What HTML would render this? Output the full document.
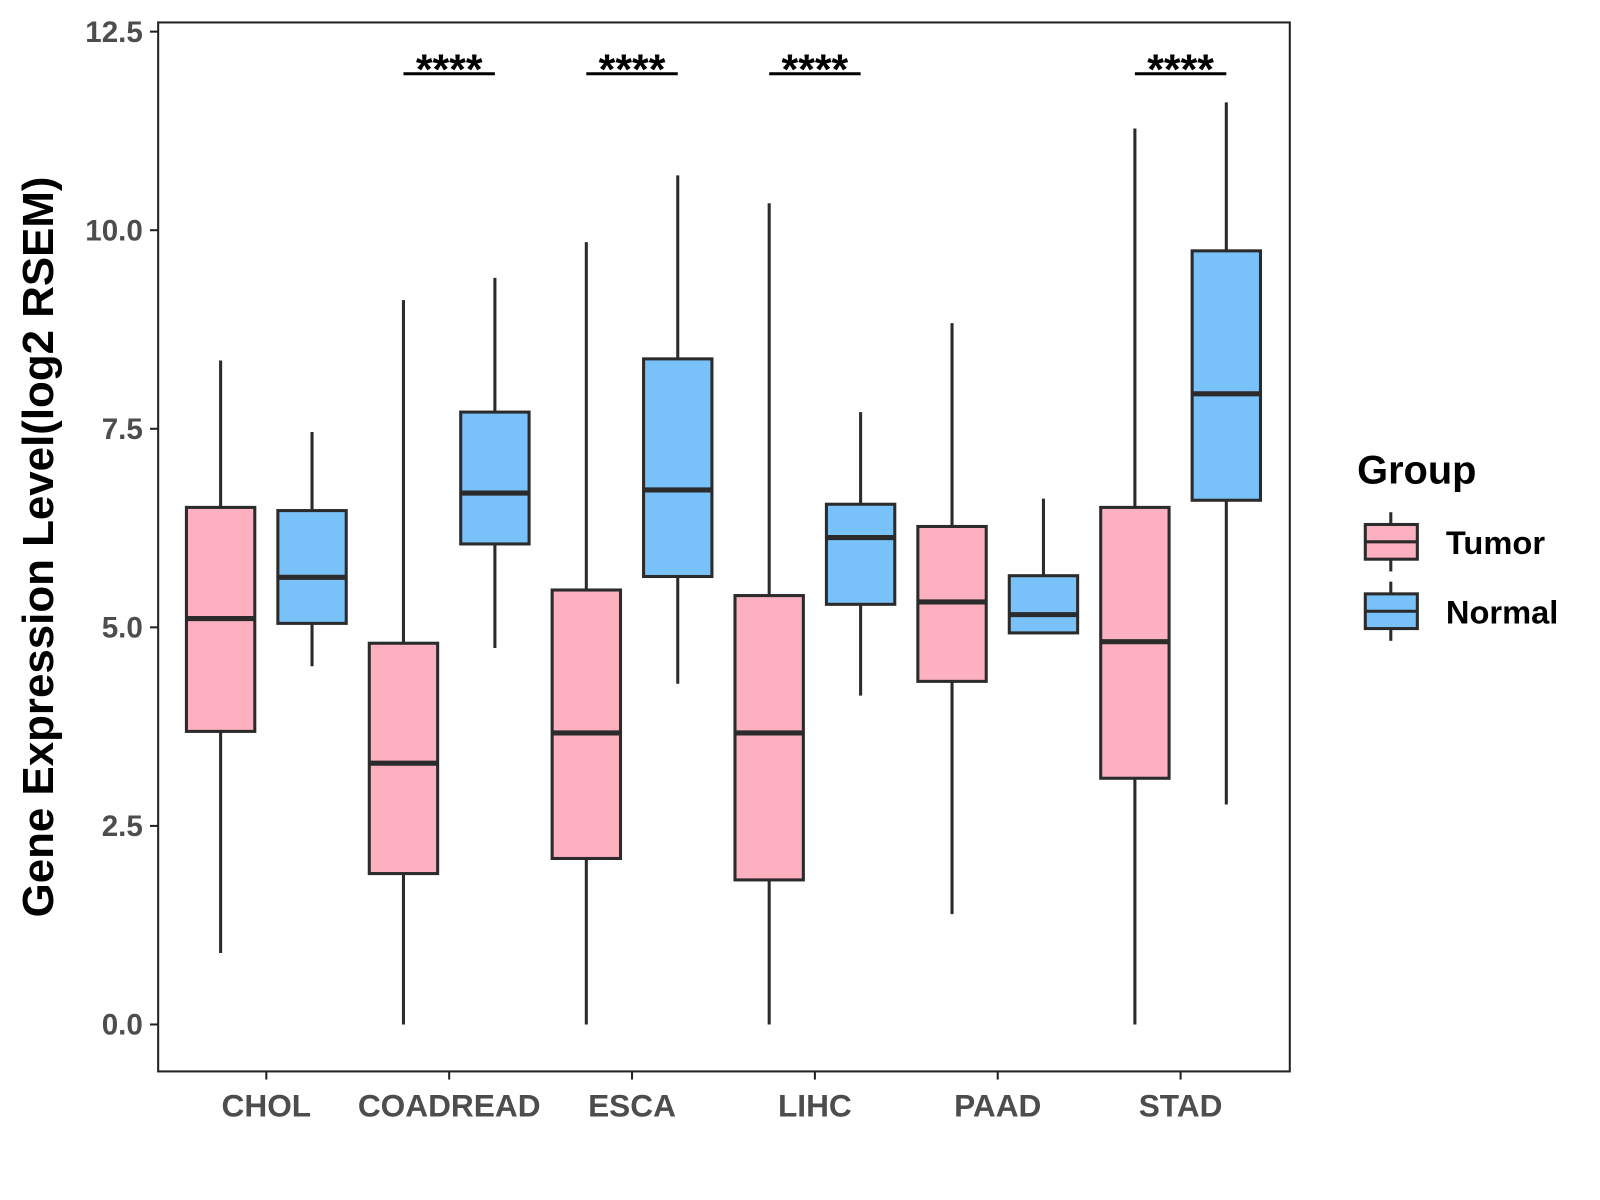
<!DOCTYPE html>
<html><head><meta charset="utf-8"><style>
html,body{margin:0;padding:0;background:#fff;}
svg{display:block;font-family:"Liberation Sans",sans-serif;}
</style></head><body>
<svg id="chart" width="1600" height="1200" viewBox="0 0 1600 1200">
<g transform="scale(1.0204)">
<rect x="155" y="22" width="1109" height="1028" fill="#fff" stroke="#222" stroke-width="2"/>
<g id="marks"></g>
<text transform="translate(52,536) rotate(-90)" text-anchor="middle" font-size="43" font-weight="bold" fill="#000">Gene Expression Level(log2 RSEM)</text>
<g>
<text x="1330" y="474" font-size="39" font-weight="bold">Group</text>
<g>
<line x1="1363" y1="502" x2="1363" y2="560" stroke="#2b2b2b" stroke-width="3"/>
<rect x="1338" y="514" width="51" height="34" fill="#FDB0C0" stroke="#2b2b2b" stroke-width="3"/>
<line x1="1338" y1="531" x2="1389" y2="531" stroke="#2b2b2b" stroke-width="3"/>
<text x="1417" y="543" font-size="32" font-weight="bold">Tumor</text>
</g>
<g>
<line x1="1363" y1="570" x2="1363" y2="628" stroke="#2b2b2b" stroke-width="3"/>
<rect x="1338" y="582" width="51" height="34" fill="#79C1F9" stroke="#2b2b2b" stroke-width="3"/>
<line x1="1338" y1="599" x2="1389" y2="599" stroke="#2b2b2b" stroke-width="3"/>
<text x="1417" y="611" font-size="32" font-weight="bold">Normal</text>
</g>
</g>
</g>
</svg>
<script>
const categories = ["CHOL","COADREAD","ESCA","LIHC","PAAD","STAD"];
const tumorMin = [0.90,0,0,0,1.39,0];
const tumorQ1 = [3.69,1.90,2.09,1.82,4.32,3.10];
const tumorMed = [5.11,3.29,3.67,3.67,5.32,4.82];
const tumorQ3 = [6.51,4.80,5.47,5.40,6.27,6.51];
const tumorMax = [8.36,9.12,9.85,10.34,8.83,11.28];
const normalMin = [4.51,4.74,4.29,4.14,4.93,2.77];
const normalQ1 = [5.05,6.05,5.64,5.29,4.93,6.60];
const normalMed = [5.63,6.69,6.73,6.13,5.16,7.94];
const normalQ3 = [6.47,7.71,8.38,6.55,5.65,9.74];
const normalMax = [7.46,9.40,10.69,7.71,6.62,11.61];
const significance = ["","****","****","****","","****"];
const sigLevel = 11.97;
const yTicks = [0,2.5,5,7.5,10,12.5];
const yTickLabels = ["0.0","2.5","5.0","7.5","10.0","12.5"];

const NS="http://www.w3.org/2000/svg";
const g=document.getElementById('marks');
const y=v=>1004-v*77.84;
const x=i=>261+i*179.2;
function el(t,a,p){const e=document.createElementNS(NS,t);for(const k in a)e.setAttribute(k,a[k]);(p||g).appendChild(e);return e;}
yTicks.forEach((t,i)=>{
  const l=el('line',{x1:147,x2:155,y1:y(t),y2:y(t),stroke:'#222','stroke-width':2});
  
  
  const tx=el('text',{x:140,y:y(t)+10,'text-anchor':'end','font-size':29,'font-weight':'bold',fill:'#4d4d4d'});
  tx.textContent=yTickLabels[i];
  
  
});
function box(cx,mn,q1,md,q3,mx,fill,name){
  const grp=el('g',{});
  
  
  el('line',{x1:cx,x2:cx,y1:y(mx),y2:y(mn),stroke:'#2b2b2b','stroke-width':3},grp);
  el('rect',{x:cx-33.5,y:y(q3),width:67,height:y(q1)-y(q3),fill:fill,stroke:'#2b2b2b','stroke-width':3},grp);
  el('line',{x1:cx-33.5,x2:cx+33.5,y1:y(md),y2:y(md),stroke:'#2b2b2b','stroke-width':5},grp);
}
categories.forEach((c,i)=>{
  const cx=x(i);
  box(cx-44.8,tumorMin[i],tumorQ1[i],tumorMed[i],tumorQ3[i],tumorMax[i],'#FDB0C0','box-tumor-'+c.toLowerCase());
  box(cx+44.8,normalMin[i],normalQ1[i],normalMed[i],normalQ3[i],normalMax[i],'#79C1F9','box-normal-'+c.toLowerCase());
  const tk=el('line',{x1:cx,x2:cx,y1:1050,y2:1058,stroke:'#222','stroke-width':2});
  
  
  const tx=el('text',{x:cx,y:1094,'text-anchor':'middle','font-size':31,'font-weight':'bold',fill:'#4d4d4d'});
  tx.textContent=c;
  
  
  if(significance[i]){
    const b=el('line',{x1:cx-44.8,x2:cx+44.8,y1:y(sigLevel),y2:y(sigLevel),stroke:'#000','stroke-width':3});
    
    
    const s=el('text',{x:cx,y:y(sigLevel)+10,'text-anchor':'middle','font-size':42,'font-weight':'bold',fill:'#000'});
    s.textContent=significance[i];
    
    
  }
});
</script>
</body></html>
